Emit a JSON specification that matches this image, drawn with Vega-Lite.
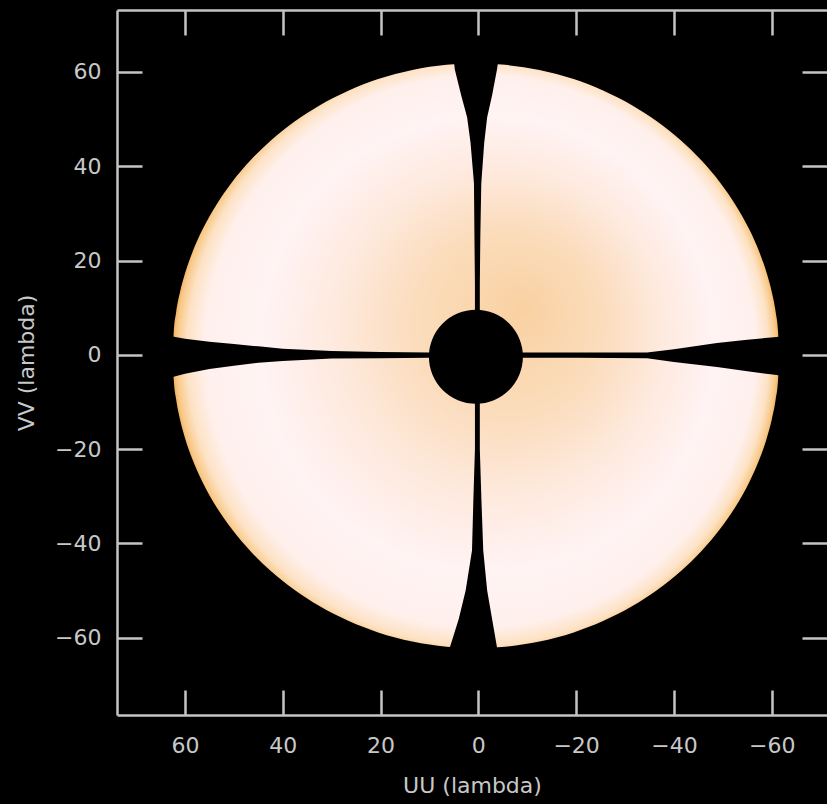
{
  "$schema": "https://vega.github.io/schema/vega-lite/v6.json",
  "autosize": "none",
  "width": 710,
  "height": 705,
  "padding": {"left": 117, "top": 10, "right": 0, "bottom": 89},
  "background": "#000000",
  "datasets": {
    "disk": [
      {"u": -61.5, "top": -0.2, "bot": -0.2},
      {"u": -61.3, "top": 4.78, "bot": -5.18},
      {"u": -60.8, "top": 9.09, "bot": -9.49},
      {"u": -60.0, "top": 13.36, "bot": -13.76},
      {"u": -59.0, "top": 17.23, "bot": -17.63},
      {"u": -57.5, "top": 21.71, "bot": -22.11},
      {"u": -55.5, "top": 26.41, "bot": -26.81},
      {"u": -52.5, "top": 31.97, "bot": -32.37},
      {"u": -49.5, "top": 36.46, "bot": -36.86},
      {"u": -45.5, "top": 41.37, "bot": -41.77},
      {"u": -41.5, "top": 45.41, "bot": -45.81},
      {"u": -36.5, "top": 49.55, "bot": -49.95},
      {"u": -31.5, "top": 52.9, "bot": -53.3},
      {"u": -25.5, "top": 56.08, "bot": -56.48},
      {"u": -19.5, "top": 58.49, "bot": -58.89},
      {"u": -12.5, "top": 60.42, "bot": -60.82},
      {"u": -5.5, "top": 61.51, "bot": -61.91},
      {"u": 0.5, "top": 61.8, "bot": -62.2},
      {"u": 6.5, "top": 61.51, "bot": -61.91},
      {"u": 13.5, "top": 60.42, "bot": -60.82},
      {"u": 20.5, "top": 58.49, "bot": -58.89},
      {"u": 26.5, "top": 56.08, "bot": -56.48},
      {"u": 32.5, "top": 52.9, "bot": -53.3},
      {"u": 37.5, "top": 49.55, "bot": -49.95},
      {"u": 42.5, "top": 45.41, "bot": -45.81},
      {"u": 46.5, "top": 41.37, "bot": -41.77},
      {"u": 50.5, "top": 36.46, "bot": -36.86},
      {"u": 53.5, "top": 31.97, "bot": -32.37},
      {"u": 56.5, "top": 26.41, "bot": -26.81},
      {"u": 58.5, "top": 21.71, "bot": -22.11},
      {"u": 60.0, "top": 17.23, "bot": -17.63},
      {"u": 61.0, "top": 13.36, "bot": -13.76},
      {"u": 61.8, "top": 9.09, "bot": -9.49},
      {"u": 62.3, "top": 4.78, "bot": -5.18},
      {"u": 62.5, "top": -0.2, "bot": -0.2}
    ],
    "hgap": [
      {"u": 64, "top": 4.3, "bot": -5.0},
      {"u": 62.5, "top": 3.9, "bot": -4.7},
      {"u": 60, "top": 3.4, "bot": -4.0},
      {"u": 55, "top": 2.8, "bot": -3.0},
      {"u": 50, "top": 2.3, "bot": -2.3},
      {"u": 45, "top": 1.8, "bot": -1.7},
      {"u": 40, "top": 1.3, "bot": -1.3},
      {"u": 30, "top": 0.8, "bot": -0.8},
      {"u": 20, "top": 0.6, "bot": -0.7},
      {"u": 10, "top": 0.5, "bot": -0.6},
      {"u": 0, "top": 0.5, "bot": -0.6},
      {"u": -10, "top": 0.5, "bot": -0.6},
      {"u": -20, "top": 0.5, "bot": -0.6},
      {"u": -34.5, "top": 0.5, "bot": -0.7},
      {"u": -40, "top": 1.2, "bot": -1.5},
      {"u": -48.8, "top": 2.5, "bot": -2.6},
      {"u": -55, "top": 3.2, "bot": -3.5},
      {"u": -61, "top": 3.8, "bot": -4.3},
      {"u": -64, "top": 4.2, "bot": -4.7}
    ],
    "vgap": [
      {"v": 64, "left": 5.2, "right": -4.3},
      {"v": 60.5, "left": 4.8, "right": -3.8},
      {"v": 55, "left": 3.5, "right": -2.8},
      {"v": 50.4, "left": 2.3, "right": -1.8},
      {"v": 45, "left": 1.6, "right": -1.2},
      {"v": 36.4, "left": 0.9, "right": -0.6},
      {"v": 25, "left": 0.8, "right": -0.4},
      {"v": 15, "left": 0.7, "right": -0.3},
      {"v": 0, "left": 0.7, "right": -0.3},
      {"v": -20, "left": 0.7, "right": -0.3},
      {"v": -30, "left": 1.0, "right": -0.6},
      {"v": -41.5, "left": 1.3, "right": -1.0},
      {"v": -50, "left": 2.6, "right": -1.8},
      {"v": -56, "left": 4.0, "right": -2.8},
      {"v": -62, "left": 5.8, "right": -3.8},
      {"v": -64, "left": 6.2, "right": -4.2}
    ],
    "center": [
      {"u": 0.5, "v": -0.4}
    ]
  },
  "layer": [
    {
      "data": {"name": "disk"},
      "mark": {
        "type": "area",
        "interpolate": "monotone",
        "fill": {
          "gradient": "radial",
          "x1": 0.58, "y1": 0.42, "r1": 0,
          "x2": 0.5, "y2": 0.5, "r2": 0.5,
          "stops": [
            {"offset": 0, "color": "#f9d1a2"},
            {"offset": 0.3, "color": "#fbdcbb"},
            {"offset": 0.55, "color": "#feeadf"},
            {"offset": 0.75, "color": "#fff3f4"},
            {"offset": 0.91, "color": "#fff0ec"},
            {"offset": 0.96, "color": "#fde2c4"},
            {"offset": 0.99, "color": "#f8c886"},
            {"offset": 1, "color": "#f2b35f"}
          ]
        }
      },
      "encoding": {
        "x": {
          "field": "u", "type": "quantitative",
          "scale": {"domain": [-71.3, 73.9], "reverse": true, "nice": false, "zero": false},
          "axis": {"orient": "bottom", "values": [60, 40, 20, 0, -20, -40, -60], "title": "UU (lambda)", "tickSize": -25, "labelPadding": 45, "titlePadding": 19, "labelFlush": false}
        },
        "y": {
          "field": "top", "type": "quantitative",
          "scale": {"domain": [-76.4, 73.15], "nice": false, "zero": false},
          "axis": {"orient": "left", "values": [-60, -40, -20, 0, 20, 40, 60], "title": "VV (lambda)", "tickSize": -25, "labelPadding": 41, "titlePadding": 16, "labelFlush": false}
        },
        "y2": {"field": "bot"}
      }
    },
    {
      "data": {"name": "hgap"},
      "mark": {"type": "area", "color": "#000000", "interpolate": "linear"},
      "encoding": {
        "x": {
          "field": "u", "type": "quantitative",
          "axis": {"orient": "top", "values": [60, 40, 20, 0, -20, -40, -60], "labels": false, "title": null, "tickSize": -25}
        },
        "y": {
          "field": "top", "type": "quantitative",
          "axis": {"orient": "right", "values": [-60, -40, -20, 0, 20, 40, 60], "labels": false, "title": null, "tickSize": -25, "domain": false}
        },
        "y2": {"field": "bot"}
      }
    },
    {
      "data": {"name": "vgap"},
      "mark": {"type": "area", "orient": "horizontal", "color": "#000000", "interpolate": "linear"},
      "encoding": {
        "y": {"field": "v", "type": "quantitative", "axis": null},
        "x": {"field": "left", "type": "quantitative", "axis": null},
        "x2": {"field": "right"}
      }
    },
    {
      "data": {"name": "center"},
      "mark": {"type": "point", "filled": true, "shape": "circle", "color": "#000000", "opacity": 1, "size": 8836},
      "encoding": {
        "x": {"field": "u", "type": "quantitative", "axis": null},
        "y": {"field": "v", "type": "quantitative", "axis": null}
      }
    }
  ],
  "resolve": {"axis": {"x": "independent", "y": "independent"}},
  "config": {
    "view": {"stroke": null},
    "axis": {
      "grid": false,
      "domainColor": "#c4c4c4",
      "domainWidth": 2.5,
      "tickColor": "#c4c4c4",
      "tickWidth": 2.5,
      "labelColor": "#c8c8c8",
      "labelFont": "DejaVu Sans",
      "labelFontSize": 22,
      "titleColor": "#c8c8c8",
      "titleFont": "DejaVu Sans",
      "titleFontSize": 22,
      "titleFontWeight": "normal"
    }
  }
}
